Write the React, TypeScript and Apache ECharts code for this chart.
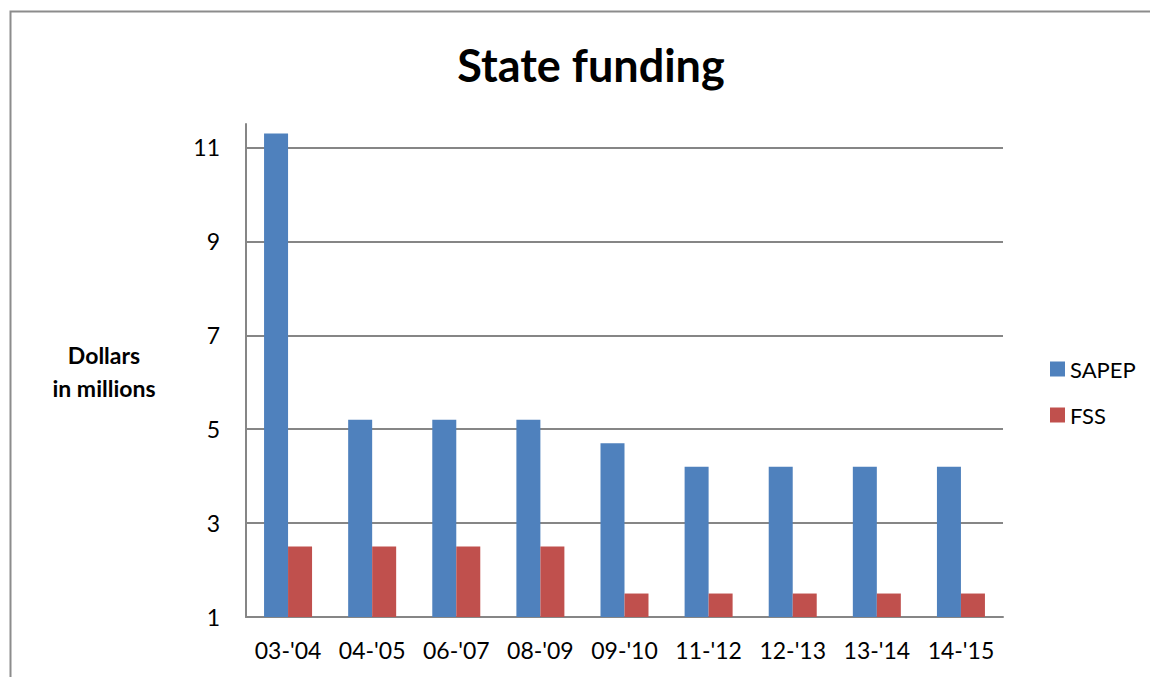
import React, { useEffect, useRef } from "react";
import * as echarts from "echarts";

const categories = ["03-'04", "04-'05", "06-'07", "08-'09", "09-'10", "11-'12", "12-'13", "13-'14", "14-'15"];
const sapep = [11.3, 5.2, 5.2, 5.2, 4.7, 4.2, 4.2, 4.2, 4.2];
const fss = [2.5, 2.5, 2.5, 2.5, 1.5, 1.5, 1.5, 1.5, 1.5];
const yMin = 1;
const yMax = 11.5;
const yInterval = 2;

const FONT = "Lato, 'Open Sans', sans-serif";

export default function App() {
  const ref = useRef<HTMLDivElement>(null);
  useEffect(() => {
    if (!ref.current) return;
    const chart = echarts.init(ref.current, null, { renderer: "svg" });
    chart.setOption({
      animation: false,
      backgroundColor: "#ffffff",
      title: {
        text: "State funding",
        left: 586,
        top: 37,
        textAlign: "center",
        textStyle: { fontFamily: FONT, fontSize: 45, fontWeight: "bold", color: "#000" },
      },
      graphic: [
        {
          type: "rect",
          shape: { x: 10.5, y: 11.5, width: 1160, height: 700 },
          style: { fill: "none", stroke: "#8c8c8c", lineWidth: 2 },
          silent: true,
        },
        {
          type: "text",
          x: 104,
          y: 338,
          style: {
            text: "Dollars\nin millions",
            align: "center",
            verticalAlign: "top",
            fontFamily: FONT,
            fontSize: 23,
            fontWeight: "bold",
            lineHeight: 33,
            fill: "#000",
          },
        },
      ],
      legend: {
        orient: "vertical",
        left: 1045,
        top: 353,
        itemWidth: 15,
        itemHeight: 15,
        itemGap: 24,
        icon: "rect",
        textStyle: { fontFamily: FONT, fontSize: 22, color: "#000" },
        data: ["SAPEP", "FSS"],
      },
      grid: { left: 246, right: 147, top: 124, bottom: 60 },
      xAxis: {
        type: "category",
        data: categories,
        axisLine: { lineStyle: { color: "#868686", width: 2 } },
        axisTick: { show: false },
        axisLabel: { interval: 0, hideOverlap: false, fontFamily: FONT, fontSize: 23, color: "#000", margin: 21 },
      },
      yAxis: {
        type: "value",
        min: yMin,
        max: yMax,
        interval: yInterval,
        axisLine: { show: true, lineStyle: { color: "#868686", width: 2 } },
        axisTick: { show: false },
        axisLabel: { fontFamily: FONT, fontSize: 23, color: "#000", margin: 26, showMaxLabel: false },
        splitLine: { show: true, showMaxLine: false, lineStyle: { color: "#868686", width: 2 } },
      },
      series: [
        {
          name: "SAPEP",
          type: "bar",
          data: sapep,
          barWidth: 24,
          barGap: "0%",
          itemStyle: { color: "#4F81BD" },
        },
        {
          name: "FSS",
          type: "bar",
          data: fss,
          barWidth: 24,
          barGap: "0%",
          itemStyle: { color: "#C0504D" },
        },
      ],
    });
    return () => chart.dispose();
  }, []);
  return (
    <div
      ref={ref}
      style={{ position: "absolute", left: 0, top: 0, width: 1150, height: 677 }}
    />
  );
}
